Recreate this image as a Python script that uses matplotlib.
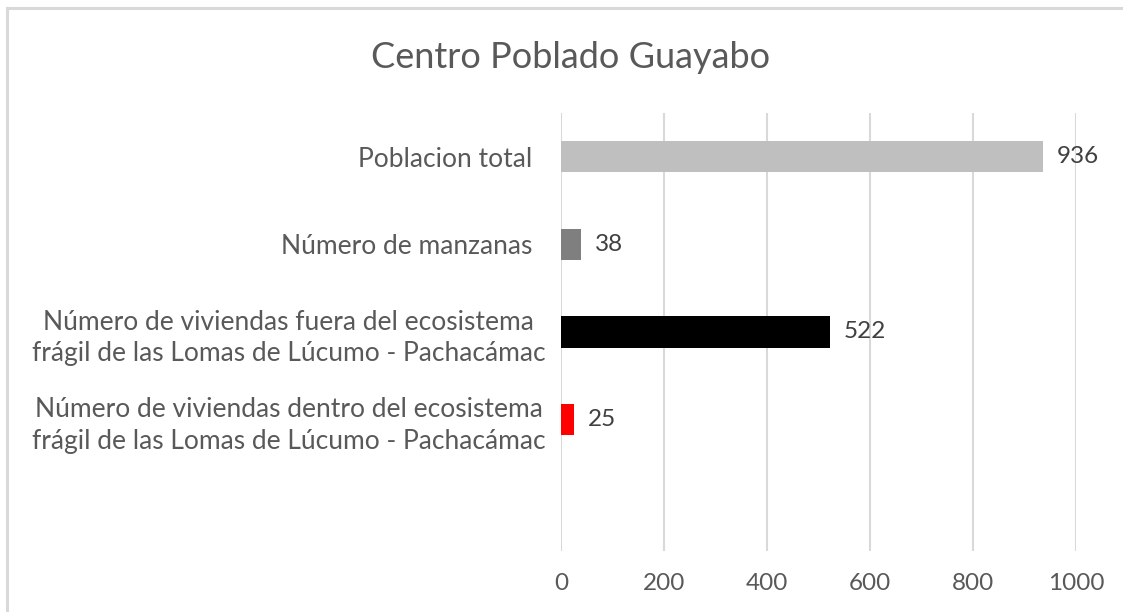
import matplotlib
matplotlib.use('Agg')
import matplotlib.pyplot as plt
from matplotlib.patches import Rectangle

# Datos del gráfico (de arriba hacia abajo; la última fila está vacía)
categorias = [
    'Poblacion total  ',
    'Número de manzanas  ',
    'Número de viviendas fuera del ecosistema\nfrágil de las Lomas de Lúcumo - Pachacámac',
    'Número de viviendas dentro del ecosistema\nfrágil de las Lomas de Lúcumo - Pachacámac',
    '',
]
valores = [936, 38, 522, 25, None]
colores = ['#BFBFBF', '#7F7F7F', '#000000', '#FF0000', '#FFFFFF']
ticks_x = [0, 200, 400, 600, 800, 1000]

plt.rcParams['font.family'] = ['Lato', 'DejaVu Sans']
texto = '#595959'

W, H = 1123, 612
fig = plt.figure(figsize=(W / 100, H / 100), dpi=100)

# Marco exterior (solo se ven el borde superior e izquierdo)
fig.patches.append(Rectangle((6.5 / W, -0.1), 1.2, 1.1 - 8 / H, transform=fig.transFigure,
                             fill=False, edgecolor='#D9D9D9', linewidth=2.2, zorder=0))

ax = fig.add_axes([561 / W, 1 - 551 / H, (1076 - 561) / W, (551 - 113) / H])

pos = list(range(len(categorias)))
for p, v, c in zip(pos, valores, colores):
    if v is None:
        continue
    ax.barh(p, v, height=0.355, color=c, zorder=3)
    ax.text(v + 27, p, str(v), va='center', ha='left', fontsize=17.5, color='#404040')

ax.set_xlim(0, 1000)
ax.set_ylim(len(categorias) - 0.5, -0.5)
ax.set_xticks(ticks_x)
ax.set_xticklabels([str(t) for t in ticks_x], fontsize=17.5, color=texto)
ax.set_yticks(pos)
ax.set_yticklabels(categorias, fontsize=19, color=texto, multialignment='center',
                   linespacing=1.35)
ax.tick_params(axis='both', length=0)
ax.tick_params(axis='x', pad=16)
ax.tick_params(axis='y', pad=11)
ax.grid(axis='x', color='#D9D9D9', linewidth=1.5, zorder=0)
ax.set_axisbelow(True)
for s in ax.spines.values():
    s.set_visible(False)

fig.text(571 / W, 1 - 57 / H, 'Centro Poblado Guayabo', ha='center', va='center',
         fontsize=26, color=texto)

fig.savefig('out.png', dpi=100)
